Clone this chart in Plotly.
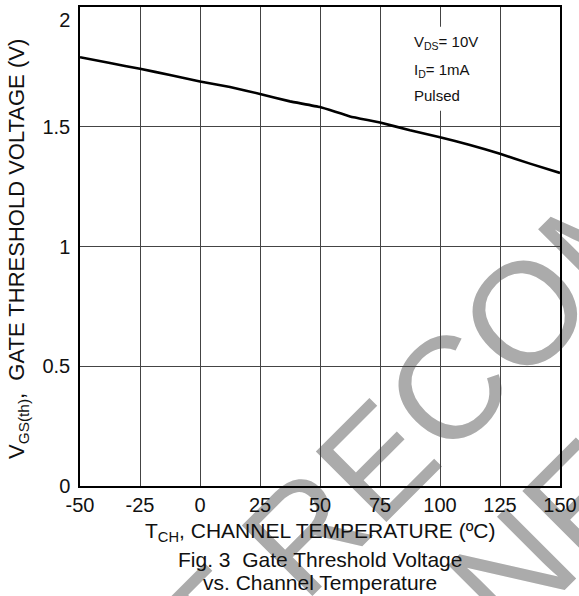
import plotly.graph_objects as go

# ---- data ----
temperature_c = [-50, -37.5, -25, -12.5, 0, 12.5, 25, 37.5, 50, 62.5, 75, 87.5, 100, 112.5, 125, 137.5, 150]
vgs_th = [1.79, 1.766, 1.742, 1.716, 1.689, 1.666, 1.637, 1.606, 1.582, 1.543, 1.518, 1.485, 1.456, 1.424, 1.387, 1.346, 1.307]

x_ticks = [-50, -25, 0, 25, 50, 75, 100, 125, 150]
x_tick_labels = ["-50", "-25", "0", "25", "50", "75", "100", "125", "150"]
y_ticks = [0, 0.5, 1, 1.5, 2]
y_tick_labels = ["0", "0.5", "1", "1.5", "2"]

conditions = ["V<sub>DS</sub>= 10V", "I<sub>D</sub>= 1mA", "Pulsed"]
condition_y = [1.851, 1.734, 1.630]

watermark_lines = ["NOT RECOMMENDED", "FOR NEW DESIGN"]
watermark_pos = [(0.9794, 0.4554), (1.2359, 0.1984)]

FONT = "Liberation Sans, Arial, sans-serif"

# top label sits just inside the figure in the reference
y_ticktext = y_tick_labels[:-1] + ["<br>" + y_tick_labels[-1]]

fig = go.Figure()
fig.add_trace(go.Scatter(
    x=temperature_c, y=vgs_th, mode="lines",
    line=dict(color="black", width=2.6, shape="spline", smoothing=0.3),
    showlegend=False, hoverinfo="skip",
))

shapes = []
for txt, (cx, cy) in zip(watermark_lines, watermark_pos):
    shapes.append(dict(
        type="rect", xref="paper", yref="paper",
        x0=cx - 0.005, x1=cx + 0.005, y0=cy - 0.005, y1=cy + 0.005,
        line=dict(width=0), fillcolor="rgba(0,0,0,0)", layer="below",
        label=dict(text=txt, textangle=-45, textposition="middle center",
                   font=dict(size=145, color="#ababab", family=FONT)),
    ))
# white box behind the test conditions
shapes.append(dict(type="rect", xref="x", yref="y", x0=85.4, x1=115.8, y0=1.567, y1=1.918,
                   line=dict(width=0), fillcolor="white", layer="above"))

annotations = []
for txt, yy in zip(conditions, condition_y):
    annotations.append(dict(x=88.3, y=yy, xref="x", yref="y", text=txt, showarrow=False,
                            xanchor="left", yanchor="middle",
                            font=dict(size=15, color="#111", family=FONT)))
annotations += [
    dict(x=0.5, y=(486 - 532) / 479, xref="paper", yref="paper", showarrow=False,
         text="T<sub>CH</sub>, CHANNEL TEMPERATURE (ºC)", xanchor="center", yanchor="middle",
         font=dict(size=21, color="#111", family=FONT)),
    dict(x=0.5, y=(486 - 559) / 479, xref="paper", yref="paper", showarrow=False,
         text="Fig. 3  Gate Threshold Voltage", xanchor="center", yanchor="middle",
         font=dict(size=21, color="#111", family=FONT)),
    dict(x=0.5, y=(486 - 582) / 479, xref="paper", yref="paper", showarrow=False,
         text="vs. Channel Temperature", xanchor="center", yanchor="middle",
         font=dict(size=21, color="#111", family=FONT)),
    dict(x=(18 - 80) / 480, y=(486 - 249) / 479, xref="paper", yref="paper", showarrow=False,
         text="V<sub>GS(th)</sub>,  GATE THRESHOLD VOLTAGE (V)", textangle=-90,
         xanchor="center", yanchor="middle",
         font=dict(size=22, color="#111", family=FONT)),
]

fig.update_layout(
    width=579, height=596,
    margin=dict(l=80, r=19, t=7, b=110),
    paper_bgcolor="white", plot_bgcolor="white",
    font=dict(family=FONT, color="#111"),
    shapes=shapes, annotations=annotations,
    xaxis=dict(range=[-50, 150], tickvals=x_ticks, ticktext=x_tick_labels, ticks="", showgrid=True,
               gridcolor="#444", gridwidth=1, showline=True, mirror=True,
               linecolor="black", linewidth=1.5, zeroline=False, ticklabeloverflow="allow",
               automargin=False,
               tickfont=dict(size=20, color="#111"), fixedrange=True),
    yaxis=dict(range=[0, 2], tickvals=y_ticks, ticktext=y_ticktext, ticks="",
               showgrid=True, gridcolor="#444", gridwidth=1, showline=True, mirror=True,
               linecolor="black", linewidth=1.5, zeroline=False, ticklabelstandoff=4,
               ticklabeloverflow="allow", automargin=False,
               tickfont=dict(size=20, color="#111"), fixedrange=True),
)

fig.write_html("out.html", config={"displayModeBar": False},
               post_script="document.body.style.margin='0';document.body.style.overflow='hidden';")
